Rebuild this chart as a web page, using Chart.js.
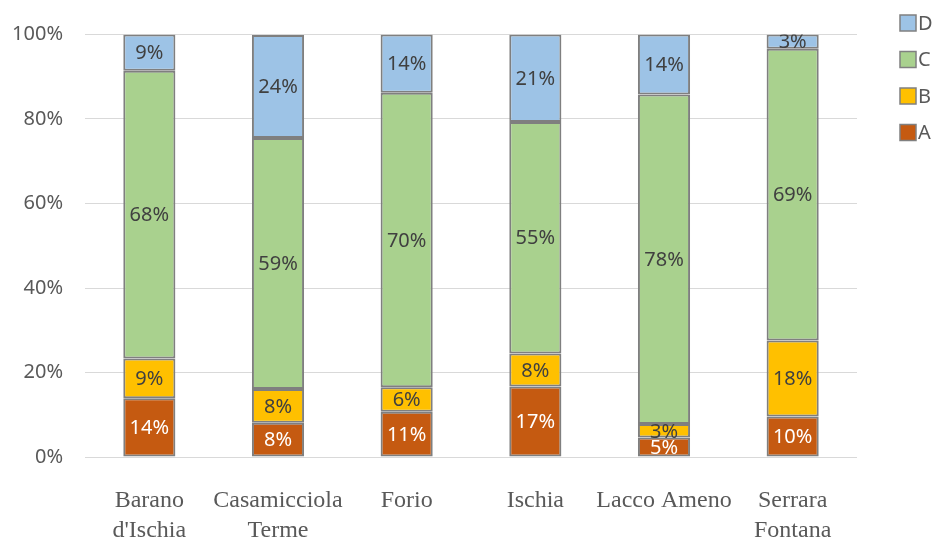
<!DOCTYPE html>
<html>
<head>
<meta charset="utf-8">
<script src="https://cdn.jsdelivr.net/npm/chart.js@4/dist/chart.umd.min.js"></script>
<style>
html,body{margin:0;padding:0;background:#fff;}
canvas{display:block;}
</style>
</head>
<body>
<canvas id="c" width="932" height="541"></canvas>
<script>
const categories = [["Barano","d'Ischia"],["Casamicciola","Terme"],["Forio"],["Ischia"],["Lacco Ameno"],["Serrara","Fontana"]];
const seriesA = [13.9, 8.1, 10.7, 16.7, 4.6, 9.6];
const seriesB = [9.4, 8.0, 5.8, 7.8, 3.2, 18.0];
const seriesC = [68.1, 59.4, 69.7, 54.8, 78.0, 69.0];
const seriesD = [8.6, 24.4, 13.8, 20.7, 14.2, 3.4];
const yTicks = [0, 20, 40, 60, 80, 100];

const colors = {A:'#C55A11', B:'#FFC000', C:'#A9D18E', D:'#9DC3E6'};
const labelColors = {A:'#ffffff', B:'#404040', C:'#404040', D:'#404040'};
const sansFont = "'Noto Sans', 'DejaVu Sans', sans-serif";
const serifFont = "'Liberation Serif', 'DejaVu Serif', serif";

const dataLabels = {
  id:'dataLabels',
  afterDatasetsDraw(chart){
    const ctx = chart.ctx, a = chart.chartArea;
    ctx.save();
    ctx.beginPath();
    ctx.rect(a.left, a.top, a.right - a.left, a.bottom - a.top - 2);
    ctx.clip();
    ctx.font = "20px " + sansFont;
    ctx.textAlign = 'center';
    ctx.textBaseline = 'middle';
    chart.data.datasets.forEach((ds, i) => {
      const meta = chart.getDatasetMeta(i);
      meta.data.forEach((el, j) => {
        const v = ds.data[j];
        const cy = (el.y + el.base) / 2;
        ctx.fillStyle = labelColors[ds.label];
        ctx.fillText(Math.round(v) + '%', el.x, cy + 1);
      });
    });
    ctx.restore();
  }
};

const customLegend = {
  id:'customLegend',
  afterDraw(chart){
    const ctx = chart.ctx;
    const order = chart.data.datasets.slice().reverse();
    ctx.save();
    ctx.font = "20px " + sansFont;
    ctx.textBaseline = 'middle';
    ctx.textAlign = 'left';
    order.forEach((ds, k) => {
      const cy = 23 + k * 36.5;
      ctx.fillStyle = ds.backgroundColor;
      ctx.fillRect(900, cy - 8, 16, 16);
      ctx.strokeStyle = '#808080';
      ctx.lineWidth = 1.5;
      ctx.strokeRect(900, cy - 8, 16, 16);
      ctx.fillStyle = '#595959';
      ctx.fillText(ds.label, 918, cy + 1);
    });
    ctx.restore();
  }
};

function mk(label, data){
  return {label, data, backgroundColor: colors[label], borderColor:'#7f7f7f', borderWidth:2, borderSkipped:false,
    barPercentage:0.405, categoryPercentage:1};
}

new Chart(document.getElementById('c'), {
  type:'bar',
  data:{
    labels: categories,
    datasets:[mk('A', seriesA), mk('B', seriesB), mk('C', seriesC), mk('D', seriesD)]
  },
  options:{
    responsive:false,
    animation:false,
    layout:{padding:{left:0, right:75, top:34.5, bottom:0}},
    plugins:{legend:{display:false}, tooltip:{enabled:false}},
    scales:{
      x:{
        stacked:true,
        grid:{display:false},
        border:{display:false},
        ticks:{color:'#595959', padding:21, font:{family:serifFont, size:24, lineHeight:1.25}, maxRotation:0, autoSkip:false},
        afterFit(s){ s.height = 84; }
      },
      y:{
        stacked:true,
        min:0, max:100,
        afterBuildTicks(s){ s.ticks = yTicks.map(v => ({value:v})); },
        grid:{color:'#d9d9d9', lineWidth:1, drawTicks:false},
        border:{display:false},
        ticks:{color:'#595959', padding:22, font:{family:sansFont, size:20}, callback:v => v + '%'},
        afterFit(s){ s.width = 85; }
      }
    }
  },
  plugins:[dataLabels, customLegend]
});
</script>
</body>
</html>
